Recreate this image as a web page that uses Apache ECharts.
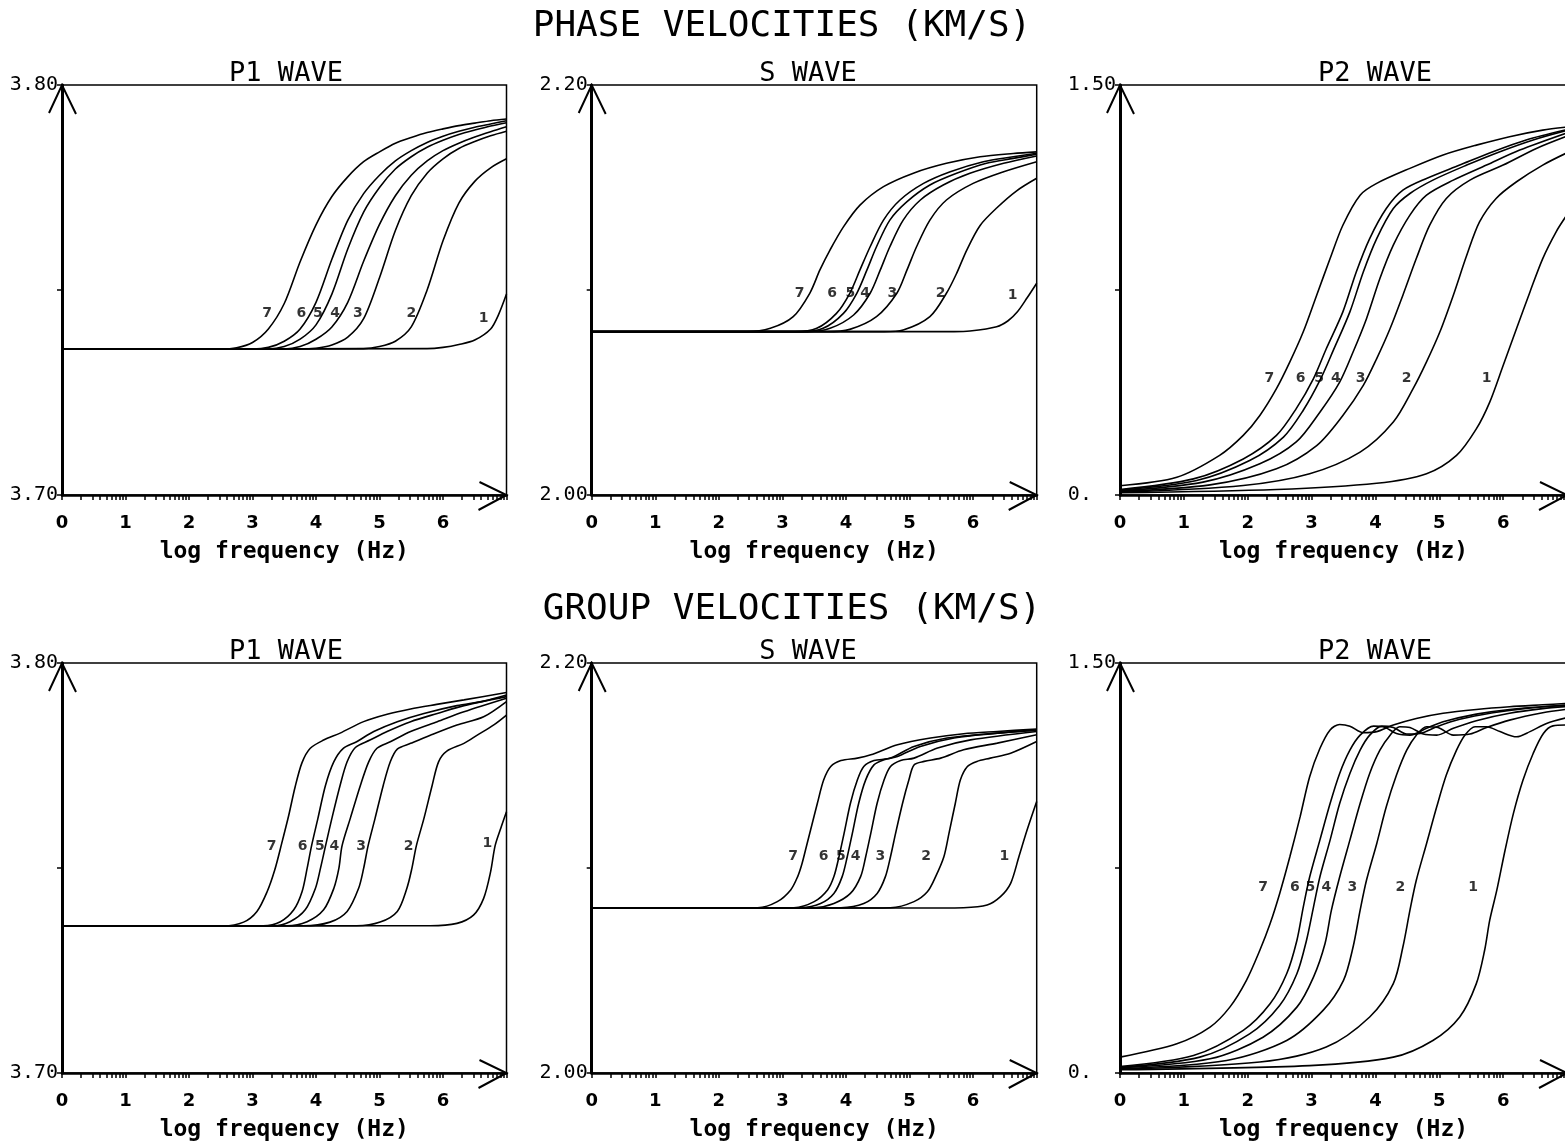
<!DOCTYPE html>
<html>
<head>
<meta charset="utf-8">
<title>Phase and group velocities</title>
<script src="https://cdn.jsdelivr.net/npm/echarts@6/dist/echarts.min.js"></script>
<style>
html, body { margin: 0; padding: 0; background: #fff; }
#chart { width: 1565px; height: 1142px; }
</style>
</head>
<body>
<div id="chart"></div>
<script>
// curve labels (curve index 1..7) and x tick labels
var curveNames = ['1', '2', '3', '4', '5', '6', '7'];
var xTickLabels = ['0', '1', '2', '3', '4', '5', '6'];
var p1TickLabels = ['3.70', '', '3.80'];
var sTickLabels = ['2.00', '', '2.20'];
var p2TickLabels = ['0.  ', '', '1.50'];

// phase velocities, P1 wave: [log f, km/s], curves 1..7
var phaseP1 = [
    [[0,3.7356],[5.75,3.7357],[6,3.736],[6.25,3.7367],[6.5,3.7378],[6.75,3.7405],[6.875,3.744],[7,3.749]],
    [[0,3.7356],[4.75,3.7357],[5,3.7362],[5.25,3.7375],[5.5,3.741],[5.75,3.75],[6,3.762],[6.25,3.7712],[6.5,3.7765],[6.75,3.7798],[7,3.782]],
    [[0,3.7356],[3.75,3.7356],[4,3.7358],[4.25,3.7366],[4.5,3.7385],[4.75,3.743],[5,3.753],[5.25,3.7645],[5.5,3.773],[5.75,3.7785],[6,3.782],[6.25,3.7845],[6.5,3.7862],[6.75,3.7876],[7,3.7887]],
    [[0,3.7356],[3.5,3.7356],[3.75,3.7362],[4,3.738],[4.25,3.741],[4.5,3.747],[4.75,3.757],[5,3.766],[5.25,3.773],[5.5,3.778],[5.75,3.7815],[6,3.784],[6.25,3.7858],[6.5,3.7873],[6.75,3.7886],[7,3.7898]],
    [[0,3.7356],[3.25,3.7356],[3.5,3.7362],[3.75,3.738],[4,3.7415],[4.25,3.749],[4.5,3.76],[4.75,3.769],[5,3.775],[5.25,3.7795],[5.5,3.7825],[5.75,3.7848],[6,3.7865],[6.25,3.7879],[6.5,3.789],[6.75,3.79],[7,3.7908]],
    [[0,3.7356],[3,3.7356],[3.25,3.736],[3.5,3.7375],[3.75,3.7405],[4,3.747],[4.25,3.7575],[4.5,3.767],[4.75,3.7735],[5,3.778],[5.25,3.7815],[5.5,3.784],[5.75,3.786],[6,3.7875],[6.25,3.7887],[6.5,3.7897],[6.75,3.7905],[7,3.7913]],
    [[0,3.7356],[2.5,3.7356],[2.75,3.7359],[3,3.7372],[3.25,3.7405],[3.5,3.7467],[3.75,3.7569],[4,3.7659],[4.25,3.7728],[4.5,3.7776],[4.75,3.7813],[5,3.7837],[5.25,3.7858],[5.5,3.7872],[5.75,3.7884],[6,3.7893],[6.25,3.7901],[6.5,3.7907],[6.75,3.7913],[7,3.7917]]
];
var phaseP1Labels = [[6.64,3.7432],[5.5,3.7444],[4.66,3.7444],[4.3,3.7444],[4.03,3.7444],[3.77,3.7444],[3.23,3.7444]];

// phase velocities, S wave
var phaseS = [
    [[0,2.0797],[5.7,2.0797],[5.95,2.08],[6.37,2.0821],[6.55,2.085],[6.7,2.0895],[6.85,2.0962],[7,2.1033]],
    [[0,2.0797],[4.6,2.0797],[4.9,2.0805],[5.32,2.087],[5.58,2.0984],[5.74,2.1081],[5.9,2.1195],[6.11,2.1315],[6.37,2.14],[6.69,2.1485],[7,2.1545]],
    [[0,2.0797],[3.7,2.0797],[4.06,2.0808],[4.48,2.087],[4.8,2.0984],[4.96,2.1098],[5.11,2.1211],[5.32,2.1341],[5.58,2.1439],[6,2.152],[6.48,2.1577],[7,2.1626]],
    [[0,2.0797],[3.4,2.0797],[3.75,2.0813],[4.12,2.0878],[4.38,2.0984],[4.54,2.1098],[4.69,2.1211],[4.9,2.1341],[5.17,2.1439],[5.53,2.1512],[5.95,2.1569],[6.48,2.1618],[7,2.1654]],
    [[0,2.0797],[3.3,2.0797],[3.64,2.0813],[3.96,2.0886],[4.17,2.0984],[4.33,2.1098],[4.48,2.1211],[4.69,2.1341],[4.96,2.1431],[5.32,2.1512],[5.74,2.1569],[6.21,2.1618],[6.63,2.1642],[7,2.1662]],
    [[0,2.0797],[3.2,2.0797],[3.54,2.0813],[3.85,2.0886],[4.06,2.0984],[4.22,2.1098],[4.38,2.1211],[4.59,2.1341],[4.85,2.1439],[5.22,2.152],[5.64,2.1577],[6.16,2.1626],[6.63,2.165],[7,2.1667]],
    [[0,2.0797],[2.44,2.0797],[2.81,2.0813],[3.17,2.087],[3.43,2.0984],[3.59,2.1098],[3.75,2.1196],[3.96,2.1308],[4.22,2.1414],[4.59,2.1504],[5.06,2.157],[5.58,2.1618],[6.11,2.165],[6.63,2.1666],[7,2.1674]]
];
var phaseSLabels = [[6.62,2.0976],[5.49,2.0984],[4.73,2.0984],[4.3,2.0984],[4.07,2.0984],[3.78,2.0984],[3.27,2.0984]];

// phase velocities, P2 wave
var phaseP2 = [
    [[0,0.008],[2.45,0.02],[4.02,0.043],[4.8,0.078],[5.27,0.145],[5.58,0.242],[5.79,0.34],[6,0.474],[6.21,0.609],[6.42,0.743],[6.62,0.865],[6.83,0.963],[7,1.025]],
    [[0,0.01],[1.93,0.035],[2.97,0.078],[3.76,0.157],[4.28,0.267],[4.59,0.389],[4.8,0.487],[5.01,0.597],[5.22,0.731],[5.43,0.877],[5.63,0.999],[5.89,1.085],[6.21,1.146],[6.62,1.207],[7,1.252]],
    [[0,0.013],[1.41,0.037],[2.45,0.096],[3.08,0.181],[3.49,0.291],[3.81,0.401],[4.02,0.499],[4.23,0.609],[4.43,0.731],[4.64,0.865],[4.85,0.987],[5.11,1.085],[5.48,1.152],[6,1.207],[6.52,1.268],[7,1.313]],
    [[0,0.015],[1.3,0.047],[2.19,0.114],[2.76,0.194],[3.13,0.303],[3.44,0.413],[3.65,0.523],[3.86,0.645],[4.07,0.792],[4.28,0.914],[4.54,1.024],[4.8,1.097],[5.22,1.152],[5.74,1.207],[6.26,1.262],[7,1.325]],
    [[0,0.018],[1.2,0.053],[2.03,0.126],[2.56,0.212],[2.87,0.31],[3.13,0.419],[3.34,0.529],[3.6,0.67],[3.81,0.816],[4.02,0.938],[4.28,1.048],[4.54,1.103],[4.9,1.152],[5.43,1.207],[5.95,1.256],[6.47,1.299],[7,1.334]],
    [[0,0.02],[1.15,0.059],[1.93,0.132],[2.45,0.218],[2.76,0.316],[3.03,0.426],[3.23,0.535],[3.49,0.67],[3.7,0.816],[3.91,0.938],[4.17,1.048],[4.43,1.115],[4.8,1.158],[5.32,1.207],[5.84,1.256],[6.36,1.299],[7,1.337]],
    [[0,0.034],[0.89,0.065],[1.56,0.145],[1.93,0.218],[2.19,0.291],[2.45,0.389],[2.66,0.487],[2.87,0.597],[3.08,0.731],[3.29,0.865],[3.49,0.987],[3.76,1.097],[4.02,1.14],[4.54,1.195],[5.06,1.244],[5.58,1.28],[6.1,1.311],[6.62,1.335],[7,1.346]]
];
var phaseP2Labels = [[5.74,0.4256],[4.49,0.4256],[3.77,0.4256],[3.38,0.4256],[3.12,0.4256],[2.83,0.4256],[2.34,0.4256]];

// group velocities, P1 wave
var groupP1 = [
    [[0,3.7359],[5.8,3.7359],[6.22,3.7365],[6.48,3.7385],[6.64,3.7426],[6.75,3.7491],[6.82,3.7554],[6.91,3.7597],[7,3.7637]],
    [[0,3.7359],[4.64,3.7359],[5.01,3.7368],[5.28,3.7394],[5.43,3.745],[5.51,3.7499],[5.58,3.7554],[5.7,3.7621],[5.83,3.7702],[5.93,3.7759],[6.06,3.7785],[6.33,3.7804],[6.54,3.7824],[6.8,3.7849],[7,3.7873]],
    [[0,3.7359],[3.8,3.7359],[4.22,3.7368],[4.49,3.7394],[4.67,3.745],[4.75,3.7499],[4.82,3.7554],[4.93,3.7621],[5.06,3.7702],[5.17,3.7759],[5.28,3.779],[5.49,3.7804],[5.8,3.7824],[6.22,3.7849],[6.64,3.7869],[7,3.7906]],
    [[0,3.7359],[3.54,3.7359],[3.86,3.7369],[4.12,3.7398],[4.28,3.745],[4.36,3.7499],[4.41,3.7554],[4.54,3.7621],[4.7,3.7702],[4.83,3.7759],[4.96,3.7792],[5.17,3.7808],[5.49,3.7833],[5.91,3.7857],[6.33,3.7881],[7,3.7914]],
    [[0,3.7359],[3.33,3.7359],[3.59,3.7369],[3.83,3.7398],[3.99,3.745],[4.07,3.7499],[4.15,3.7554],[4.25,3.7621],[4.38,3.7702],[4.49,3.7759],[4.62,3.7794],[4.85,3.7812],[5.12,3.7833],[5.49,3.7857],[5.91,3.7877],[6.33,3.7896],[7,3.7918]],
    [[0,3.7359],[3.17,3.7359],[3.44,3.7369],[3.65,3.7398],[3.78,3.7442],[3.86,3.7499],[3.93,3.7554],[4.03,3.7621],[4.15,3.7702],[4.28,3.7759],[4.43,3.7792],[4.64,3.7808],[4.91,3.7833],[5.28,3.7857],[5.7,3.7877],[6.22,3.7896],[6.64,3.7907],[7,3.7922]],
    [[0,3.7359],[2.54,3.7359],[2.86,3.7368],[3.07,3.7394],[3.23,3.7442],[3.35,3.7495],[3.46,3.756],[3.57,3.7628],[3.67,3.7697],[3.78,3.7757],[3.91,3.7792],[4.12,3.7812],[4.38,3.7829],[4.75,3.7857],[5.12,3.7875],[5.49,3.7888],[5.9,3.7899],[6.33,3.791],[7,3.7928]]
];
var groupP1Labels = [[6.7,3.756],[5.46,3.7552],[4.71,3.7552],[4.29,3.7552],[4.06,3.7552],[3.79,3.7552],[3.3,3.7552]];

// group velocities, S wave
var groupS = [
    [[0,2.0805],[5.5,2.0805],[5.85,2.0806],[6.22,2.0819],[6.43,2.086],[6.59,2.0925],[6.72,2.1055],[6.85,2.1186],[7,2.1324]],
    [[0,2.0805],[4.4,2.0805],[4.7,2.0806],[5.07,2.0836],[5.28,2.0884],[5.41,2.0958],[5.54,2.1055],[5.62,2.1169],[5.72,2.1316],[5.8,2.143],[5.91,2.1495],[6.06,2.152],[6.27,2.1536],[6.59,2.156],[7,2.1617]],
    [[0,2.0805],[3.6,2.0805],[3.92,2.0806],[4.28,2.0827],[4.49,2.0876],[4.62,2.0958],[4.7,2.1055],[4.78,2.1169],[4.89,2.1316],[4.99,2.143],[5.07,2.1503],[5.23,2.152],[5.49,2.1536],[5.85,2.1577],[6.38,2.1609],[7,2.165]],
    [[0,2.0805],[3.2,2.0805],[3.5,2.0806],[3.81,2.0827],[4.07,2.0876],[4.23,2.0958],[4.31,2.1055],[4.39,2.1169],[4.49,2.1316],[4.6,2.143],[4.7,2.1495],[4.86,2.1524],[5.07,2.1536],[5.44,2.1585],[5.96,2.1625],[7,2.1666]],
    [[0,2.0805],[3,2.0805],[3.29,2.0806],[3.6,2.0827],[3.81,2.0876],[3.94,2.0958],[4.02,2.1055],[4.1,2.1169],[4.2,2.1316],[4.31,2.143],[4.44,2.1503],[4.6,2.1528],[4.81,2.1544],[5.17,2.1593],[5.7,2.1634],[6.38,2.1658],[7,2.1671]],
    [[0,2.0805],[2.9,2.0805],[3.18,2.0806],[3.5,2.0836],[3.71,2.0893],[3.81,2.0958],[3.89,2.1055],[3.97,2.1169],[4.07,2.1316],[4.18,2.143],[4.28,2.1495],[4.44,2.1524],[4.7,2.1536],[5.07,2.1593],[5.59,2.1634],[6.38,2.1658],[7,2.1674]],
    [[0,2.0805],[2.3,2.0805],[2.61,2.0806],[2.92,2.0836],[3.13,2.0893],[3.24,2.0958],[3.31,2.1023],[3.39,2.1121],[3.47,2.1218],[3.55,2.1316],[3.65,2.143],[3.76,2.1495],[3.92,2.1524],[4.18,2.1536],[4.39,2.1552],[4.81,2.1601],[5.33,2.1634],[5.85,2.1655],[6.38,2.1666],[7,2.1678]]
];
var groupSLabels = [[6.49,2.1055],[5.26,2.1055],[4.54,2.1055],[4.15,2.1055],[3.92,2.1055],[3.65,2.1055],[3.17,2.1055]];

// group velocities, P2 wave
var groupP2 = [
    [[0,0.012],[2.97,0.027],[4.28,0.058],[4.9,0.119],[5.32,0.205],[5.58,0.327],[5.71,0.449],[5.79,0.559],[5.9,0.668],[6.03,0.815],[6.16,0.949],[6.31,1.071],[6.47,1.169],[6.63,1.242],[6.78,1.27],[7,1.273]],
    [[0,0.014],[2.19,0.04],[3.23,0.095],[3.91,0.205],[4.28,0.327],[4.43,0.461],[4.54,0.595],[4.64,0.705],[4.8,0.839],[4.96,0.974],[5.11,1.09],[5.27,1.181],[5.4,1.236],[5.56,1.267],[5.74,1.267],[5.95,1.249],[6.21,1.23],[6.42,1.249],[6.68,1.279],[7,1.3]],
    [[0,0.016],[1.67,0.046],[2.61,0.119],[3.18,0.229],[3.5,0.339],[3.65,0.461],[3.76,0.595],[3.86,0.705],[4.02,0.839],[4.17,0.974],[4.33,1.09],[4.49,1.181],[4.64,1.236],[4.8,1.267],[4.98,1.264],[5.22,1.236],[5.48,1.24],[5.74,1.264],[6.1,1.291],[6.62,1.318],[7,1.331]],
    [[0,0.019],[1.41,0.052],[2.24,0.131],[2.77,0.241],[3.03,0.351],[3.21,0.473],[3.31,0.595],[3.44,0.717],[3.6,0.852],[3.76,0.986],[3.91,1.096],[4.07,1.181],[4.23,1.236],[4.38,1.267],[4.54,1.264],[4.75,1.24],[4.96,1.236],[5.22,1.261],[5.58,1.289],[6.1,1.316],[6.62,1.333],[7,1.341]],
    [[0,0.021],[1.25,0.058],[2.03,0.143],[2.5,0.247],[2.77,0.363],[2.92,0.485],[3.03,0.607],[3.13,0.717],[3.29,0.852],[3.44,0.986],[3.6,1.096],[3.76,1.181],[3.91,1.236],[4.1,1.269],[4.28,1.264],[4.49,1.24],[4.7,1.242],[4.96,1.267],[5.32,1.294],[5.84,1.318],[6.36,1.334],[7,1.345]],
    [[0,0.024],[1.15,0.064],[1.93,0.156],[2.35,0.253],[2.61,0.363],[2.77,0.485],[2.87,0.607],[2.97,0.717],[3.13,0.852],[3.29,0.986],[3.44,1.096],[3.6,1.181],[3.76,1.236],[3.97,1.269],[4.12,1.267],[4.33,1.242],[4.54,1.236],[4.8,1.261],[5.06,1.285],[5.58,1.313],[6.1,1.33],[7,1.347]],
    [[0,0.058],[0.89,0.107],[1.41,0.168],[1.72,0.241],[1.98,0.339],[2.19,0.449],[2.35,0.546],[2.5,0.656],[2.66,0.791],[2.82,0.937],[2.97,1.084],[3.13,1.187],[3.29,1.255],[3.44,1.275],[3.6,1.269],[3.81,1.245],[4.02,1.249],[4.28,1.273],[4.64,1.297],[5.06,1.316],[5.58,1.33],[6.1,1.34],[6.62,1.347],[7,1.352]]
];
var groupP2Labels = [[5.53,0.681],[4.39,0.681],[3.64,0.681],[3.23,0.681],[2.98,0.681],[2.74,0.681],[2.24,0.681]];

var panels = [
    {title: 'P1 WAVE', curves: phaseP1, labels: phaseP1Labels, yMin: 3.7, yMax: 3.8, yStep: 0.05, yTicks: p1TickLabels, left: 62, top: 85, width: 444.5, titleX: 286},
    {title: 'S WAVE', curves: phaseS, labels: phaseSLabels, yMin: 2.0, yMax: 2.2, yStep: 0.1, yTicks: sTickLabels, left: 591.7, top: 85, width: 445, titleX: 808},
    {title: 'P2 WAVE', curves: phaseP2, labels: phaseP2Labels, yMin: 0, yMax: 1.5, yStep: 0.75, yTicks: p2TickLabels, left: 1120, top: 85, width: 447, titleX: 1375},
    {title: 'P1 WAVE', curves: groupP1, labels: groupP1Labels, yMin: 3.7, yMax: 3.8, yStep: 0.05, yTicks: p1TickLabels, left: 62, top: 663, width: 444.5, titleX: 286},
    {title: 'S WAVE', curves: groupS, labels: groupSLabels, yMin: 2.0, yMax: 2.2, yStep: 0.1, yTicks: sTickLabels, left: 591.7, top: 663, width: 445, titleX: 808},
    {title: 'P2 WAVE', curves: groupP2, labels: groupP2Labels, yMin: 0, yMax: 1.5, yStep: 0.75, yTicks: p2TickLabels, left: 1120, top: 663, width: 447, titleX: 1375}
];
var panelHeight = 410;

// minor ticks at log10 positions inside each decade
var logTicks = [];
for (var n = 0; n < 7; n++) {
    for (var k = 1; k < 10; k++) {
        logTicks.push(n + Math.log10(k));
    }
}
logTicks.push(7);

var MONO = "'DejaVu Sans Mono', monospace";
var SANS = "'DejaVu Sans', sans-serif";

// open arrow heads at the top of y axis and the end of x axis
function renderArrow(params, api) {
    var tip = api.coord([api.value(0), api.value(1)]);
    var pts;
    if (params.dataIndex === 0) {
        pts = [[tip[0] - 13, tip[1] + 28], tip, [tip[0] + 14, tip[1] + 29]];
    } else {
        pts = [[tip[0] - 27, tip[1] - 13], tip, [tip[0] - 28, tip[1] + 15]];
    }
    return {
        type: 'polyline',
        shape: {points: pts},
        style: {stroke: '#000', lineWidth: 2, fill: null}
    };
}

var grids = [], xAxes = [], yAxes = [], series = [];
var graphics = [
    {type: 'text', x: 782, y: 27, style: {text: 'PHASE VELOCITIES (KM/S)', font: '36px ' + MONO, fill: '#000', textAlign: 'center', textVerticalAlign: 'middle'}},
    {type: 'text', x: 792, y: 610, style: {text: 'GROUP VELOCITIES (KM/S)', font: '36px ' + MONO, fill: '#000', textAlign: 'center', textVerticalAlign: 'middle'}}
];

panels.forEach(function (p, i) {
    grids.push({
        left: p.left, top: p.top, width: p.width, height: panelHeight,
        outerBoundsMode: 'none', containLabel: false,
        show: true, borderColor: '#000', borderWidth: 1.5, backgroundColor: 'transparent'
    });
    xAxes.push({
        gridIndex: i, type: 'value', min: 0, max: 7, interval: 1,
        name: 'log frequency (Hz)', nameLocation: 'middle', nameGap: 46,
        nameTextStyle: {fontFamily: MONO, fontWeight: 'bold', fontSize: 23, color: '#000'},
        axisLine: {show: true, lineStyle: {color: '#000', width: 2.5}},
        axisTick: {show: true, length: 5, customValues: logTicks, lineStyle: {color: '#000', width: 1.5}},
        axisLabel: {
            margin: 19, color: '#000', fontFamily: SANS, fontWeight: 'bold', fontSize: 18,
            formatter: function (v) { return xTickLabels[Math.round(v)] || ''; }
        },
        splitLine: {show: false}
    });
    yAxes.push({
        gridIndex: i, type: 'value', min: p.yMin, max: p.yMax, interval: p.yStep,
        axisLine: {show: true, lineStyle: {color: '#000', width: 3}},
        axisTick: {show: true, length: 5, lineStyle: {color: '#000', width: 1.5}},
        axisLabel: {
            margin: 4, color: '#000', fontFamily: MONO, fontSize: 20,
            formatter: function (v) { return p.yTicks[Math.round((v - p.yMin) / p.yStep)] || ''; }
        },
        splitLine: {show: false}
    });
    p.curves.forEach(function (c, k) {
        series.push({
            type: 'line', name: curveNames[k], xAxisIndex: i, yAxisIndex: i,
            data: c, smooth: 0.3, symbol: 'none', silent: true,
            lineStyle: {color: '#000', width: 1.6}
        });
    });
    series.push({
        type: 'scatter', xAxisIndex: i, yAxisIndex: i, silent: true,
        symbolSize: 1, itemStyle: {color: 'transparent'},
        data: p.labels.map(function (pt, k) { return {value: pt, name: curveNames[k]}; }),
        label: {show: true, position: 'inside', formatter: '{b}', color: '#000',
                fontFamily: SANS, fontWeight: 'bold', fontSize: 14}
    });
    series.push({
        type: 'custom', xAxisIndex: i, yAxisIndex: i, silent: true, clip: false,
        data: [[0, p.yMax], [7, p.yMin]],
        renderItem: renderArrow
    });
    graphics.push({
        type: 'text', x: p.titleX, y: p.top - 11,
        style: {text: p.title, font: '27px ' + MONO, fill: '#000', textAlign: 'center', textVerticalAlign: 'middle'}
    });
});

var myChart = echarts.init(document.getElementById('chart'));
myChart.setOption({
    backgroundColor: '#fff',
    animation: false,
    grid: grids,
    xAxis: xAxes,
    yAxis: yAxes,
    series: series,
    graphic: graphics
});
</script>
</body>
</html>
